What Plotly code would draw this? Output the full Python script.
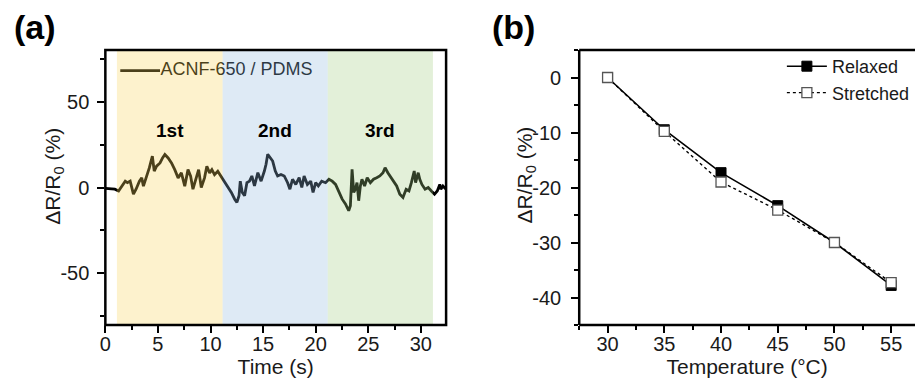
import plotly.graph_objects as go

# ---------------- panel (a): resistance response over three cycles ----------------
time_s = [0, 0.5, 0.9, 1.26, 1.57, 1.89, 2.1, 2.36, 2.67, 2.92, 3.24, 3.46, 3.62, 3.93,
          4.18, 4.47, 4.65, 4.87, 5.2, 5.44, 5.66, 5.97, 6.29, 6.6, 6.92, 7.23, 7.55,
          7.86, 8.11, 8.33, 8.65, 8.87, 9.12, 9.43, 9.65, 9.91, 10.13, 10.38, 10.69,
          11.0, 11.35, 11.67, 11.98, 12.3, 12.51, 12.71, 12.83, 13.02, 13.24, 13.46,
          13.71, 13.93, 14.18, 14.5, 14.81, 15.12, 15.28, 15.44, 15.66, 15.91, 16.16,
          16.38, 16.7, 17.01, 17.33, 17.55, 17.8, 18.11, 18.43, 18.68, 18.9, 19.21,
          19.53, 19.75, 20.0, 20.25, 20.57, 20.94, 21.26, 21.57, 21.89, 22.2, 22.52,
          22.83, 23.14, 23.3, 23.46, 23.62, 23.77, 23.93, 24.09, 24.25, 24.4, 24.65,
          24.9, 25.2, 25.5, 25.8, 26.1, 26.4, 26.6, 26.86, 27.08, 27.4, 27.7, 28.0,
          28.3, 28.6, 28.87, 29.1, 29.37, 29.5, 29.75, 29.9, 30.1, 30.4, 30.7, 31.0,
          31.3, 31.56, 31.8, 31.9, 32.1, 32.4]
delta_r = [-0.5, -0.6, -1, -2, 0.8, 3.7, 2.8, 3.7, -3.9, -1, 3.7, 5.6, 0.8, 6.6,
           11.4, 18.2, 9.5, 12.4, 14.3, 17.2, 19.2, 17.2, 14.3, 10.4, 5.6, 8.5, 0.8,
           10.4, 6.6, -1, 5.6, 10.4, 0, 5.6, 12.4, 8.5, 10.4, 7.5, 9.5,
           6.6, 3.7, 0, -2.9, -6.8, -8.7, -4.8, 3.7, -2.9, -4.8, 2.8,
           3.7, 6.7, 0.9, 8.6, 3.7, 9.6, 13.5, 19.3, 17.3, 15.4, 9.6,
           6.7, 7.6, 6.7, 2.8, -1, 4.8, 1.8, 5.7, 0, 6.7, 1.8,
           3.7, -2.9, 2.8, 0.9, 3.7, 2.8, 4.8, 3.7, 1.8, -2, -6.8,
           -9.6, -13.5, -10.6, 10.6, -2.9, -1, 2.8, -7.7, 0.9, 4.8, 0.9,
           5.7, 2.8, 4.8, 5.7, 6.7, 8.6, 11.5, 8.6, 6.7, 3.7, 0.9, -3.9,
           -5.8, -1, -2, 2.8, 9.6, 2.8, 8.6, 4.8, 1.8, -1, 0, -2,
           -3.9, -2, 1.8, -1, 0.9, -1]

cycle_labels = ["1st", "2nd", "3rd"]
cycle_start = [1.1, 11.15, 21.15]
cycle_end = [11.15, 21.15, 31.15]
cycle_colors = ["rgb(248,212,91)", "rgb(145,185,222)", "rgb(162,205,128)"]

a_xticks = [0, 5, 10, 15, 20, 25, 30]
a_yticks = [-50, 0, 50]
a_yticktext = ["-50", "0", "50"]

# ---------------- panel (b): temperature dependence ----------------
temperature = [30, 35, 40, 45, 50, 55]
relaxed = [0, -9.5, -17.3, -23.3, -30.0, -37.8]
stretched = [0, -9.8, -19.0, -24.1, -30.0, -37.3]

b_yticks = [-40, -30, -20, -10, 0]
b_yticktext = ["-40", "-30", "-20", "-10", "0"]

FONT = "Liberation Sans, Arial, sans-serif"
INK = "#1a1a1a"

W, H = 915, 387
plot_top, plot_bottom = 50, 325
ydom = [(H - plot_bottom) / H, (H - plot_top) / H]
a_dom = [100 / W, 443 / W]
b_dom = [577 / W, 1.0]

fig = go.Figure()

# trace curve of panel (a)
fig.add_trace(go.Scatter(x=time_s, y=delta_r, mode="lines",
                         line=dict(color="black", width=2.8),
                         showlegend=False, xaxis="x", yaxis="y"))
# in-plot key of panel (a), placed under the tinted bands
fig.add_trace(go.Scatter(x=[1.42, 5.2], y=[68, 68], mode="lines",
                         line=dict(color="black", width=2.8),
                         showlegend=False, hoverinfo="skip", xaxis="x", yaxis="y"))
fig.add_trace(go.Scatter(x=[5.25], y=[68], mode="text", text=["ACNF-650 / PDMS"],
                         textposition="middle right",
                         textfont=dict(family=FONT, size=18, color="black"),
                         showlegend=False, hoverinfo="skip", xaxis="x", yaxis="y"))

# panel (b) curves
fig.add_trace(go.Scatter(x=temperature, y=relaxed, mode="lines+markers", name="Relaxed",
                         line=dict(color="black", width=1.6),
                         marker=dict(symbol="square", size=10, color="black",
                                     line=dict(color="black", width=1)),
                         xaxis="x2", yaxis="y2"))
fig.add_trace(go.Scatter(x=temperature, y=stretched, mode="lines+markers", name="Stretched",
                         line=dict(color="black", width=1.4, dash="dot"),
                         marker=dict(symbol="square", size=10, color="white",
                                     line=dict(color="#555555", width=1.3)),
                         xaxis="x2", yaxis="y2"))

# translucent cycle bands drawn over the curve (tints the line beneath)
shapes = []
for x0, x1, c in zip(cycle_start, cycle_end, cycle_colors):
    shapes.append(dict(type="rect", xref="x", yref="y domain", x0=x0, x1=x1, y0=0, y1=1,
                       fillcolor=c, opacity=0.3, line=dict(width=0), layer="above"))

# plot frames: full box for (a); left, top and bottom edges for (b)
frame = dict(color="black", width=2.5)
shapes.append(dict(type="rect", xref="paper", yref="paper", x0=a_dom[0], x1=a_dom[1],
                   y0=ydom[0], y1=ydom[1], line=frame, fillcolor="rgba(0,0,0,0)", layer="above"))
for (x0, y0, x1, y1) in [(b_dom[0], ydom[0], b_dom[0], ydom[1]),
                         (b_dom[0], ydom[1], b_dom[1], ydom[1]),
                         (b_dom[0], ydom[0], b_dom[1], ydom[0])]:
    shapes.append(dict(type="line", xref="paper", yref="paper", x0=x0, y0=y0, x1=x1, y1=y1,
                       line=frame, layer="above"))

annotations = []
for lab, x0, x1 in zip(cycle_labels, cycle_start, cycle_end):
    annotations.append(dict(x=(x0 + x1) / 2, y=33, xref="x", yref="y", text=lab,
                            showarrow=False,
                            font=dict(family=FONT, size=19, color="black", weight="bold")))
for lab, px in [("(a)", 6), ("(b)", 487)]:
    annotations.append(dict(x=px / W, y=(H - 27) / H, xref="paper", yref="paper", text=lab,
                            showarrow=False, xanchor="left", yanchor="middle",
                            font=dict(family=FONT, size=34, color="black", weight="bold")))
title_font = dict(family=FONT, size=21, color=INK)
# vertical axis titles
for px, py in [(48, 176), (523, 175)]:
    annotations.append(dict(x=px / W, y=(H - py) / H, xref="paper", yref="paper",
                            text="ΔR/R<sub>0</sub> (%)", textangle=-90, showarrow=False,
                            xanchor="center", yanchor="middle", font=title_font))

axis_common = dict(showline=False, showgrid=False, zeroline=False, ticks="outside",
                   ticklen=7, tickwidth=2, tickcolor="black",
                   tickfont=dict(family=FONT, size=20, color=INK))
minor_common = dict(ticks="outside", ticklen=4, tickwidth=1.8, tickcolor="black")

fig.update_layout(
    width=W, height=H,
    margin=dict(l=0, r=0, t=0, b=0),
    paper_bgcolor="white", plot_bgcolor="white",
    shapes=shapes, annotations=annotations,
    xaxis=dict(domain=a_dom, range=[0, 32.4], tickvals=a_xticks, ticklabelstandoff=-6,
               minor=dict(dtick=2.5, tick0=0, **minor_common),
               title=dict(text="Time (s)", font=title_font, standoff=3),
               anchor="y", **axis_common),
    yaxis=dict(domain=ydom, range=[-80, 80], tickvals=a_yticks, ticktext=a_yticktext,
               ticklabelstandoff=4,
               minor=dict(dtick=25, tick0=0, **minor_common),
               anchor="x", **axis_common),
    xaxis2=dict(domain=b_dom, range=[27.5, 57.1], tickvals=temperature, ticklabelstandoff=-6,
                minor=dict(dtick=2.5, tick0=30, **minor_common),
                title=dict(text="Temperature (°C)", font=title_font, standoff=3),
                anchor="y2", **axis_common),
    yaxis2=dict(domain=ydom, range=[-45, 5], tickvals=b_yticks, ticktext=b_yticktext,
                ticklabelstandoff=6,
                minor=dict(dtick=5, tick0=0, **minor_common),
                anchor="x2", **axis_common),
    legend=dict(x=781 / W, y=(H - 48) / H, xanchor="left", yanchor="top",
                bgcolor="rgba(0,0,0,0)", borderwidth=0, itemwidth=40,
                font=dict(family=FONT, size=18, color=INK), tracegroupgap=0),
    showlegend=True,
)

fig.write_html("out.html")
